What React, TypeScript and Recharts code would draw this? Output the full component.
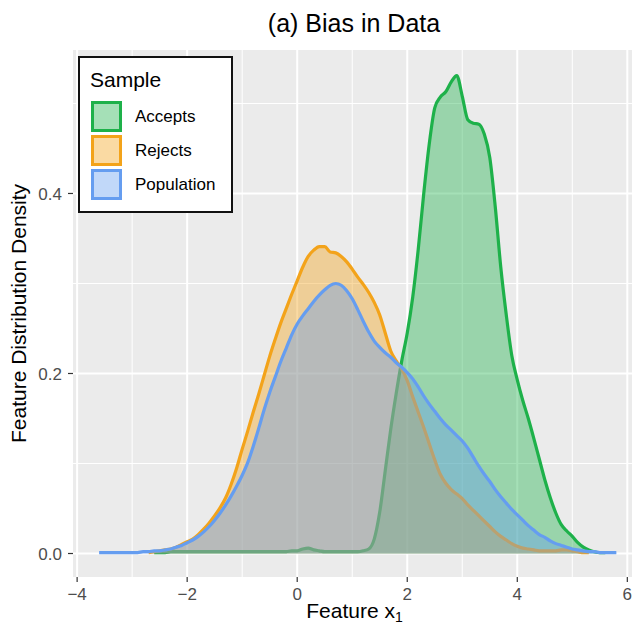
import React from "react"
import { ComposedChart, Area, XAxis, YAxis, CartesianGrid, Legend, Label } from "recharts"

// x grid (Feature x1) shared by the three density curves
const xValues = [
  -3.6, -3.5, -3.4, -3.3, -3.2, -3.1, -3.0, -2.9, -2.8, -2.7,
  -2.6, -2.5, -2.4, -2.3, -2.2, -2.1, -2.0, -1.9, -1.8, -1.7,
  -1.6, -1.5, -1.4, -1.3, -1.2, -1.1, -1.0, -0.9, -0.8, -0.7,
  -0.6, -0.5, -0.4, -0.3, -0.2, -0.1, 0.0, 0.1, 0.2, 0.3,
  0.4, 0.5, 0.6, 0.7, 0.8, 0.9, 1.0, 1.1, 1.2, 1.3,
  1.4, 1.5, 1.6, 1.7, 1.8, 1.9, 2.0, 2.1, 2.2, 2.3,
  2.4, 2.5, 2.6, 2.7, 2.8, 2.9, 3.0, 3.1, 3.2, 3.3,
  3.4, 3.5, 3.6, 3.7, 3.8, 3.9, 4.0, 4.1, 4.2, 4.3,
  4.4, 4.5, 4.6, 4.7, 4.8, 4.9, 5.0, 5.1, 5.2, 5.3,
  5.4, 5.5, 5.6, 5.7, 5.8,
]

const accepts = [
  null, null, null, null, null, null, null, null, null, null,
  0.001, 0.001, 0.001, 0.002, 0.002, 0.002, 0.002, 0.002, 0.002, 0.002,
  0.002, 0.002, 0.002, 0.002, 0.002, 0.002, 0.002, 0.002, 0.002, 0.002,
  0.002, 0.002, 0.002, 0.002, 0.002, 0.003, 0.003, 0.005, 0.006, 0.004,
  0.003, 0.002, 0.002, 0.002, 0.002, 0.002, 0.002, 0.002, 0.003, 0.005,
  0.016, 0.046, 0.092, 0.138, 0.178, 0.214, 0.245, 0.285, 0.338, 0.4,
  0.455, 0.495, 0.507, 0.513, 0.524, 0.531, 0.508, 0.482, 0.478, 0.477,
  0.466, 0.44, 0.385, 0.318, 0.265, 0.22, 0.193, 0.17, 0.15, 0.128,
  0.105, 0.082, 0.062, 0.045, 0.032, 0.025, 0.019, 0.012, 0.007, 0.004,
  0.002, 0.001, 0.001, null, null,
]

const rejects = [
  null, null, null, null, null, null, null, null, null, 0.001,
  0.002, 0.003, 0.004, 0.005, 0.007, 0.01, 0.013, 0.016, 0.021, 0.027,
  0.034, 0.042, 0.051, 0.062, 0.077, 0.095, 0.116, 0.136, 0.157, 0.177,
  0.198, 0.219, 0.238, 0.256, 0.272, 0.288, 0.303, 0.318, 0.33, 0.337,
  0.341, 0.341, 0.335, 0.334, 0.33, 0.324, 0.316, 0.307, 0.299, 0.29,
  0.279, 0.265, 0.245, 0.225, 0.214, 0.205, 0.192, 0.174, 0.157, 0.14,
  0.122, 0.104, 0.088, 0.078, 0.071, 0.066, 0.061, 0.054, 0.048, 0.042,
  0.036, 0.03, 0.024, 0.019, 0.015, 0.011, 0.008, 0.006, 0.005, 0.004,
  0.003, 0.003, 0.003, 0.003, 0.004, 0.004, 0.003, 0.002, 0.001, 0.001,
  null, null, null, null, null,
]

const population = [
  0.001, 0.001, 0.001, 0.001, 0.001, 0.001, 0.001, 0.001, 0.002, 0.002,
  0.003, 0.003, 0.004, 0.005, 0.007, 0.009, 0.012, 0.015, 0.019, 0.024,
  0.03, 0.037, 0.045, 0.054, 0.064, 0.075, 0.087, 0.101, 0.119, 0.139,
  0.16, 0.179, 0.196, 0.213, 0.228, 0.243, 0.255, 0.264, 0.272, 0.28,
  0.287, 0.293, 0.298, 0.3, 0.298, 0.292, 0.283, 0.271, 0.258, 0.246,
  0.236, 0.229, 0.223, 0.218, 0.212, 0.207, 0.201, 0.194, 0.185, 0.175,
  0.166, 0.158, 0.15, 0.143, 0.137, 0.131, 0.125, 0.117, 0.107, 0.097,
  0.088, 0.08, 0.071, 0.063, 0.056, 0.049, 0.043, 0.037, 0.031, 0.026,
  0.021, 0.018, 0.014, 0.011, 0.009, 0.007, 0.005, 0.004, 0.003, 0.002,
  0.002, 0.001, 0.001, 0.001, 0.001,
]

const xTicks = [-4, -2, 0, 2, 4, 6]
const xMinor = [-3, -1, 1, 3, 5]
const yTicks = [0, 0.2, 0.4]
const yMinor = [0.1, 0.3, 0.5]

const series = [
  { key: "accepts", name: "Accepts", color: "#1eb14a" },
  { key: "rejects", name: "Rejects", color: "#f3a31a" },
  { key: "population", name: "Population", color: "#659df0" },
]

const data = xValues.map((x, i) => ({
  x,
  accepts: accepts[i],
  rejects: rejects[i],
  population: population[i],
}))

const font = '"Liberation Sans", Arial, Helvetica, sans-serif'

function SampleLegend() {
  return (
    <div
      style={{
        position: "relative",
        width: 155,
        height: 157,
        boxSizing: "border-box",
        border: "2px solid #111",
        background: "#fff",
        fontFamily: font,
        color: "#000",
      }}
    >
      <div style={{ position: "absolute", left: 10, top: 11, fontSize: 21, lineHeight: 1 }}>Sample</div>
      {series.map((s, i) => (
        <React.Fragment key={s.key}>
          <div
            style={{
              position: "absolute",
              left: 11,
              top: 43 + i * 34,
              width: 31,
              height: 31,
              boxSizing: "border-box",
              border: `3px solid ${s.color}`,
              background: s.color + "66",
            }}
          />
          <div style={{ position: "absolute", left: 55, top: 50 + i * 34, fontSize: 17, lineHeight: 1 }}>{s.name}</div>
        </React.Fragment>
      ))}
    </div>
  )
}

export default function App() {
  const minus = (v: number) => String(v).replace("-", "\u2212")
  return (
    <div style={{ position: "absolute", left: 0, top: 0, width: 632, height: 628, fontFamily: font, background: "#fff" }}>
      <div
        style={{
          position: "absolute",
          left: 154,
          top: 11,
          width: 400,
          textAlign: "center",
          fontSize: 25,
          lineHeight: 1,
          color: "#000",
        }}
      >
        (a) Bias in Data
      </div>
      <ComposedChart width={632} height={628} data={data} margin={{ top: 50, right: 0, bottom: 21, left: 0 }}>
        <CartesianGrid fill="#ebebeb" stroke="#ffffff" strokeWidth={2} verticalValues={xTicks} horizontalValues={yTicks} />
        <CartesianGrid stroke="#ffffff" strokeWidth={1} verticalValues={xMinor} horizontalValues={yMinor} />
        <XAxis
          dataKey="x"
          type="number"
          domain={[-4.075, 6.085]}
          allowDataOverflow
          ticks={xTicks}
          interval={0}
          height={30}
          axisLine={false}
          tickLine={{ stroke: "#333", strokeWidth: 1.2 }}
          tickSize={5}
          tickMargin={6}
          tick={{ fill: "#4d4d4d", fontSize: 17, fontFamily: font }}
          tickFormatter={minus}
        >
          <Label
            content={({ viewBox }: any) => (
              <text x={viewBox.x + viewBox.width / 2 + 2} y={618} textAnchor="middle" fontSize={21} fontFamily={font} fill="#000">
                Feature x
                <tspan fontSize={14} dy={4}>1</tspan>
              </text>
            )}
          />
        </XAxis>
        <YAxis
          type="number"
          domain={[-0.0261, 0.5594]}
          allowDataOverflow
          ticks={yTicks}
          interval={0}
          width={73}
          axisLine={false}
          tickLine={{ stroke: "#333", strokeWidth: 1.2 }}
          tickSize={5}
          tickMargin={6}
          tick={{ fill: "#4d4d4d", fontSize: 17, fontFamily: font }}
          tickFormatter={(v: number) => v.toFixed(1)}
        >
          <Label
            content={({ viewBox }: any) => {
              const cy = viewBox.y + viewBox.height / 2
              return (
                <text x={26} y={cy} transform={`rotate(-90, 26, ${cy})`} textAnchor="middle" fontSize={21} fontFamily={font} fill="#000">
                  Feature Distribution Density
                </text>
              )
            }}
          />
        </YAxis>
        {series.map((s) => (
          <Area
            key={s.key}
            type="monotone"
            dataKey={s.key}
            name={s.name}
            stroke={s.color}
            strokeWidth={3.2}
            fill={s.color}
            fillOpacity={0.4}
            baseValue={0}
            dot={false}
            activeDot={false}
            isAnimationActive={false}
          />
        ))}
        <Legend
          layout="vertical"
          align="center"
          verticalAlign="middle"
          content={() => <SampleLegend />}
          wrapperStyle={{ position: "absolute", left: 78, top: 56, width: 155, height: 157 }}
        />
      </ComposedChart>
    </div>
  )
}
